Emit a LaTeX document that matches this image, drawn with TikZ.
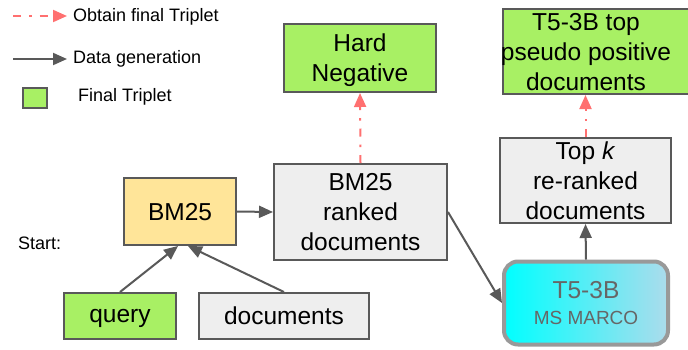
\documentclass[tikz,border=0pt]{standalone}
\usepackage{fontspec}
\setmainfont{Liberation Sans}
\usetikzlibrary{arrows.meta}
\definecolor{fgreen}{RGB}{168,240,100}
\definecolor{fyellow}{RGB}{255,229,153}
\definecolor{fgray}{RGB}{238,238,238}
\definecolor{bgray}{RGB}{89,89,89}
\definecolor{fred}{RGB}{255,112,112}
\definecolor{t5border}{RGB}{153,153,153}
\definecolor{t5left}{RGB}{0,255,255}
\definecolor{t5right}{RGB}{172,220,236}
\definecolor{t5text}{RGB}{102,102,102}
\tikzset{
  box/.style={draw=bgray, line width=2pt, inner sep=0pt, align=center, text depth=0pt,
    font=\fontsize{24.5}{30}\selectfont},
  legtext/.style={anchor=west, inner sep=0pt, font=\fontsize{18}{22}\selectfont},
  genarrow/.style={draw=bgray, line width=2pt, -{Triangle[length=14pt,width=12pt]}},
  finarrow/.style={draw=fred, line width=2pt, dash pattern=on 8pt off 8pt on 2.5pt off 8pt,
    -{Triangle[length=14pt,width=12pt]}},
}
\begin{document}
\begin{tikzpicture}[x=1pt,y=-1pt]
\useasboundingbox (0,0) rectangle (688,349);
% legend
\coordinate (l1a) at (13,16);
\coordinate (l1b) at (67,16);
\coordinate (l2a) at (13,59);
\coordinate (l2b) at (67,59);
\draw[finarrow] (l1a) -- (l1b);
\draw[genarrow] (l2a) -- (l2b);
\node[legtext] (lt1) at (73,17) {Obtain final Triplet};
\node[legtext] (lt2) at (73,59) {Data generation};
\node[draw=bgray, line width=2pt, fill=fgreen, minimum width=24pt, minimum height=20pt, inner sep=0pt] (lsq) at (35,98) {};
\node[legtext] (lt3) at (78,97) {Final Triplet};
\node[legtext] (start) at (18,243) {Start:};
% boxes
\node[box, fill=fgreen, minimum width=152pt, minimum height=68pt] (hard) at (360,58) {Hard\\Negative};
\node[box, fill=fgreen, minimum width=186pt, minimum height=85pt] (t5top) at (596,51.5) {};
\node[align=center, inner sep=0pt, font=\fontsize{24.5}{30}\selectfont] (t5toptext) at (586,52) {T5-3B top\\pseudo positive\\documents};
\node[box, fill=fgray, minimum width=171pt, minimum height=85pt] (topk) at (585.5,180.5) {Top \textit{k}\\re-ranked\\documents};
\node[box, fill=fgray, minimum width=173pt, minimum height=96pt] (ranked) at (360.5,212) {BM25\\ranked\\documents};
\node[box, fill=fyellow, minimum width=112pt, minimum height=67pt] (bm25) at (180,211.5) {BM25};
\node[box, fill=fgreen, minimum width=112pt, minimum height=46pt] (query) at (120,316) {query};
\node[box, fill=fgray, minimum width=170pt, minimum height=46pt] (docs) at (284,316) {documents};
\node[draw=t5border, line width=4pt, rounded corners=14pt, left color=t5left, right color=t5right,
  minimum width=164pt, minimum height=83pt, inner sep=0pt, align=center, text=t5text,
  font=\fontsize{24.5}{26}\selectfont] (t5) at (586,303) {T5-3B\\{\fontsize{19}{26}\selectfont MS MARCO}};
% connectors
\draw[genarrow] (bm25.east) -- (ranked.west);
\draw[genarrow] (query.north) -- ([xshift=-2pt]bm25.south);
\draw[genarrow] (docs.north) -- ([xshift=8pt]bm25.south);
\draw[genarrow] (ranked.east) -- (t5.west);
\draw[genarrow] (t5.north) -- (topk.south);
\draw[finarrow] (topk.north) -- (topk.north |- t5top.south);
\draw[finarrow] (ranked.north) -- (hard.south);
\end{tikzpicture}
\end{document}
